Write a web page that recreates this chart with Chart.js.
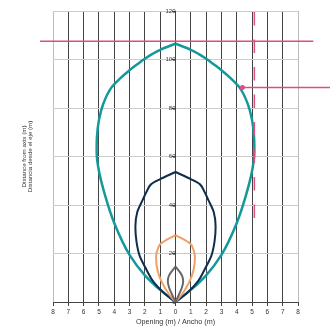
<!DOCTYPE html>
<html>
<head>
<meta charset="utf-8">
<script src="https://cdn.jsdelivr.net/npm/chart.js@4/dist/chart.umd.min.js"></script>
<style>
html,body{margin:0;padding:0;background:#fff;}
#wrap{width:330px;height:330px;}
</style>
</head>
<body>
<div id="wrap"><canvas id="c" width="330" height="330"></canvas></div>
<script>
// Opening (half-width, m) vs distance from axis (m) for each beam shape
const tealDist  = [0, 5, 11, 19.4, 32.6, 44, 54, 62, 68, 75, 82, 88.3, 92, 95.6, 98, 100.3, 102.3, 104, 106.5];
const tealHalf  = [0, 1.0, 2.0, 3.0, 4.0, 4.6, 5.0, 5.15, 5.13, 5.0, 4.7, 4.2, 3.65, 3.0, 2.5, 2.0, 1.5, 1.0, 0];
const navyDist  = [0, 4, 8.4, 14, 19, 25, 31, 37, 42, 46, 48.5, 50.5, 53.6];
const navyHalf  = [0, 0.8, 1.45, 1.95, 2.34, 2.55, 2.62, 2.5, 2.15, 1.85, 1.6, 1.05, 0];
const orangeDist = [0, 3, 8, 13, 18.5, 22, 24, 27.6];
const orangeHalf = [0, 0.4, 0.88, 1.17, 1.27, 1.15, 0.97, 0];
const grayDist  = [0, 3, 6, 8.4, 10.5, 12.2, 14.6];
const grayHalf  = [0, 0.22, 0.42, 0.5, 0.45, 0.3, 0];

// Pink annotation marks
const limitLineDist = 107.5;
const limitLineX = [-8.85, 9.0];
const dashedX = 5.15;
const dashedDist = [34.6, 124.5];
const markerPoint = [4.37, 88.5];
const markerEndX = 10.3;

const xTicks = [-8, 8];   // axis range, step 1
const yTicks = [0, 120];  // axis range, step 20

const PINK = '#dc4f7f';
const TEAL = '#14999b';
const NAVY = '#0f2d4f';
const ORANGE = '#f2a064';
const GRAY = '#686868';

function half(dist, w, sign){ return dist.map((d,i)=>({x: sign*w[i], y: d})); }
function shape(dist, w, color, width){
  return [-1, 1].map(s => ({
    type: 'line',
    data: half(dist, w, s), borderColor: color, borderWidth: width,
    indexAxis: 'y', cubicInterpolationMode: 'monotone',
    pointRadius: 0, fill: false
  }));
}

const datasets = [
  { data: [{x: limitLineX[0], y: limitLineDist}, {x: limitLineX[1], y: limitLineDist}],
    borderColor: PINK, backgroundColor: PINK, borderWidth: 1.5, showLine: true,
    pointStyle: 'line', rotation: 90, pointRadius: 3, pointBorderWidth: 1.5, clip: false },
  { data: [{x: dashedX, y: dashedDist[0]}, {x: dashedX, y: dashedDist[1]}],
    borderColor: PINK, borderWidth: 1.5, showLine: true, borderDash: [13.5, 14],
    pointRadius: 0, clip: false },
  { data: [{x: markerPoint[0], y: markerPoint[1]}, {x: markerEndX, y: markerPoint[1]}],
    borderColor: PINK, backgroundColor: PINK, borderWidth: 1.5, showLine: true,
    pointRadius: [2.5, 0], pointBorderWidth: 0, clip: false },
  ...shape(grayDist, grayHalf, GRAY, 2),
  ...shape(orangeDist, orangeHalf, ORANGE, 2),
  ...shape(navyDist, navyHalf, NAVY, 2),
  ...shape(tealDist, tealHalf, TEAL, 2.5),
];

const FONT = "'Liberation Sans', Arial, sans-serif";

new Chart(document.getElementById('c'), {
  type: 'scatter',
  data: { datasets },
  options: {
    responsive: false,
    animation: false,
    events: [],
    layout: { padding: { left: 8, right: 32, top: 11, bottom: 0 } },
    plugins: { legend: { display: false }, tooltip: { enabled: false } },
    scales: {
      x: {
        type: 'linear', min: xTicks[0], max: xTicks[1],
        ticks: { stepSize: 1, color: '#333', font: { family: FONT, size: 6.5 }, padding: 2,
                 callback: v => Math.abs(v) },
        grid: { color: c => (Math.abs(c.tick.value) === 8 ? '#bdbdbd' : '#444'),
                tickColor: '#444', tickLength: 4, lineWidth: 1 },
        border: { display: true, color: '#444', width: 1 },
        title: { display: true, text: 'Opening (m) / Ancho (m)', color: '#333',
                 font: { family: FONT, size: 7.2 }, padding: { top: 2, bottom: 4 } },
        afterFit: s => { s.height = 28; }
      },
      y: {
        type: 'linear', min: yTicks[0], max: yTicks[1],
        position: { x: 0 },
        ticks: { stepSize: 20, color: '#333', font: { family: FONT, size: 6 }, padding: 1 },
        grid: { color: '#cccccc', tickColor: '#444', tickLength: 4, lineWidth: 1 },
        border: { display: false }
      },
      yt: {
        type: 'linear', axis: 'y', position: 'left', min: 0, max: 1,
        ticks: { display: false },
        grid: { display: false, drawOnChartArea: false },
        border: { display: false },
        title: { display: true, text: ['Distance from axis (m)', 'Distancia desde el eje (m)'],
                 color: '#333', font: { family: FONT, size: 6.2, lineHeight: 1.1 },
                 padding: { top: 12.5, bottom: 0 } },
        afterFit: s => { s.width = 45; }
      }
    }
  }
});
</script>
</body>
</html>
